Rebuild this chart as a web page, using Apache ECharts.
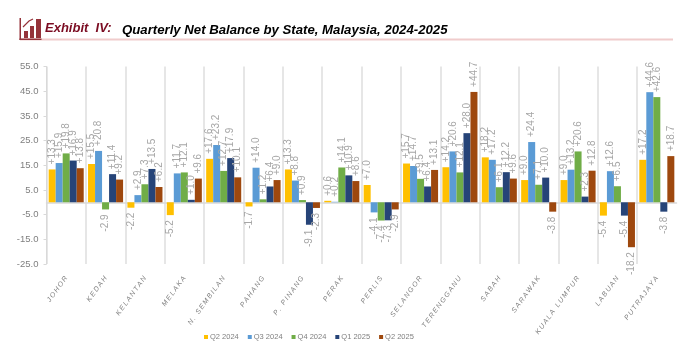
<!DOCTYPE html>
<html lang="en">
<head>
<meta charset="UTF-8">
<title>Quarterly Net Balance by State</title>
<style>
html, body { margin: 0; padding: 0; background: #fff; }
#chart { width: 687px; height: 351px; }
</style>
</head>
<body>
<div id="chart"></div>
<script src="https://cdn.jsdelivr.net/npm/echarts@6/dist/echarts.min.js"></script>
<script>
var states = ['JOHOR', 'KEDAH', 'KELANTAN', 'MELAKA', 'N. SEMBILAN', 'PAHANG', 'P. PINANG', 'PERAK',
    'PERLIS', 'SELANGOR', 'TERENGGANU', 'SABAH', 'SARAWAK', 'KUALA LUMPUR', 'LABUAN', 'PUTRAJAYA'];
var q2_2024 = [13.3, 15.5, -2.2, -5.2, 17.6, -1.7, 13.3, 0.6, 7.0, 15.7, 14.2, 18.2, 9.0, 9.0, -5.4, 17.2];
var q3_2024 = [15.9, 20.8, 2.9, 11.7, 23.2, 14.0, 8.8, 0.2, -4.1, 14.7, 20.6, 17.2, 24.4, 13.2, 12.6, 44.6];
var q4_2024 = [19.8, -2.9, 7.3, 12.1, 12.7, 1.2, 0.9, 14.1, -7.4, 9.5, 12.1, 6.1, 7.1, 20.6, 6.5, 42.6];
var q1_2025 = [16.9, 11.4, 13.5, 1.0, 17.9, 6.4, -9.1, 10.9, -7.3, 6.4, 28.0, 12.2, 10.0, 2.3, -5.4, -3.8];
var q2_2025 = [13.8, 9.2, 6.2, 9.6, 10.1, 9.0, -2.3, 8.6, -2.9, 13.1, 44.7, 9.6, -3.8, 12.8, -18.2, 18.7];
var yTicks = [-25, -15, -5, 5, 15, 25, 35, 45, 55];

var chart = echarts.init(document.getElementById('chart'), null, { renderer: 'canvas' });

function makeSeries(name, values, color) {
    return {
        name: name,
        type: 'bar',
        barGap: 0,
        barCategoryGap: '11%',
        itemStyle: { color: color },
        label: {
            show: true,
            rotate: 90,
            position: 'top',
            align: 'left',
            verticalAlign: 'middle',
            distance: 5,
            color: '#a6a6a6',
            fontFamily: 'Liberation Sans',
            fontSize: 10,
            formatter: function (p) {
                return (p.value > 0 ? '+' : '') + p.value.toFixed(1);
            }
        },
        data: values.map(function (v) {
            if (v < 0) {
                return { value: v, label: { position: 'bottom', align: 'right' } };
            }
            return v;
        })
    };
}

chart.setOption({
    animation: false,
    backgroundColor: '#fff',
    textStyle: { fontFamily: 'Liberation Sans' },
    grid: { left: 46.5, right: 10.5, top: 66.5, bottom: 87, containLabel: false },
    legend: {
        top: 328,
        left: 199,
        icon: 'rect',
        itemWidth: 4,
        itemHeight: 4,
        itemGap: 9,
        textStyle: { color: '#7f7f7f', fontSize: 7.5, padding: [0, 0, 0, -3] }
    },
    xAxis: [{
        type: 'category',
        data: states,
        position: 'bottom',
        axisLine: { show: false, onZero: false },
        axisTick: { show: false },
        splitLine: { show: true, showMaxLine: false, lineStyle: { color: '#dedede', width: 1.5 } },
        axisLabel: {
            interval: 0,
            rotate: 54,
            margin: 13,
            color: '#808080',
            fontStyle: 'italic',
            fontSize: 7,
            formatter: function (v) { return v.split('').join('\u2009'); }
        }
    }, {
        type: 'category',
        data: states,
        axisLine: { show: true, onZero: true, lineStyle: { color: '#d9d9d9', width: 1.5 } },
        axisTick: { show: false },
        axisLabel: { show: false }
    }],
    yAxis: {
        type: 'value',
        min: -25,
        max: 55,
        splitLine: { show: false },
        axisLine: { show: true, lineStyle: { color: '#d9d9d9' } },
        axisTick: { show: true, length: 3, customValues: yTicks, lineStyle: { color: '#d9d9d9' } },
        axisLabel: {
            customValues: yTicks,
            margin: 8,
            color: '#7f7f7f',
            fontSize: 9.5,
            formatter: function (v) { return v.toFixed(1); }
        }
    },
    series: [
        makeSeries('Q2 2024', q2_2024, '#ffc000'),
        makeSeries('Q3 2024', q3_2024, '#5b9bd5'),
        makeSeries('Q4 2024', q4_2024, '#70ad47'),
        makeSeries('Q1 2025', q1_2025, '#264478'),
        makeSeries('Q2 2025', q2_2025, '#9e480e')
    ],
    // exhibit header: icon, rule and title
    graphic: [
        { type: 'rect', shape: { x: 20, y: 38.5, width: 653, height: 2 }, style: { fill: '#f0cccc' } },
        { type: 'rect', shape: { x: 19.5, y: 18, width: 1.5, height: 22 }, style: { fill: '#95333a' } },
        { type: 'rect', shape: { x: 19.5, y: 38.5, width: 22, height: 1.5 }, style: { fill: '#95333a' } },
        { type: 'rect', shape: { x: 24, y: 31, width: 4, height: 7 }, style: { fill: '#95333a' } },
        { type: 'rect', shape: { x: 30, y: 26, width: 4, height: 12 }, style: { fill: '#95333a' } },
        { type: 'rect', shape: { x: 36, y: 19, width: 5, height: 19 }, style: { fill: '#95333a' } },
        { type: 'polyline', shape: { points: [[23, 27], [29, 21], [33, 19]] }, style: { stroke: '#95333a', lineWidth: 1.2, fill: null } },
        {
            type: 'text', left: 45, top: 22,
            style: { text: 'Exhibit  IV:', fill: '#7b0c22', font: 'italic bold 13px "Liberation Sans"' }
        },
        {
            type: 'text', left: 122, top: 24,
            style: { text: 'Quarterly Net Balance by State, Malaysia, 2024-2025', fill: '#000', font: 'italic bold 13.2px "Liberation Sans"' }
        }
    ]
});
</script>
</body>
</html>
